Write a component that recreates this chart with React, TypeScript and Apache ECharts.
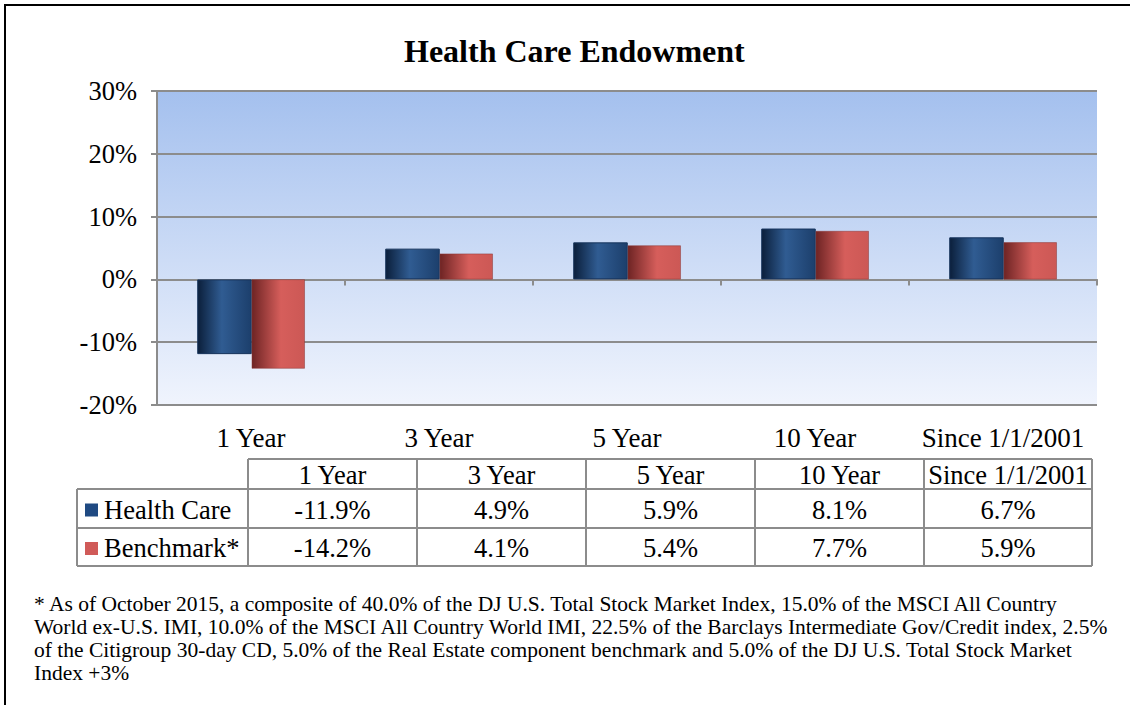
import React, { useEffect, useRef } from "react";
import * as echarts from "echarts";

const titleText = "Health Care Endowment";
const categories = ["1 Year", "3 Year", "5 Year", "10 Year", "Since 1/1/2001"];
const seriesNames = ["Health Care", "Benchmark*"];
const healthCare = [-11.9, 4.9, 5.9, 8.1, 6.7];
const benchmark = [-14.2, 4.1, 5.4, 7.7, 5.9];
const yMin = -20;
const yMax = 30;
const yStep = 10;
const footnoteLines = [
  "* As of October 2015, a composite of 40.0% of the DJ U.S. Total Stock Market Index, 15.0% of the MSCI All Country",
  "World ex-U.S. IMI, 10.0% of the MSCI All Country World IMI, 22.5% of the Barclays Intermediate Gov/Credit index, 2.5%",
  "of the Citigroup 30-day CD, 5.0% of the Real Estate component benchmark and 5.0% of the DJ U.S. Total Stock Market",
  "Index +3%",
];

const FONT = "Times New Roman";
const GRID_COLOR = "#8c8c8c";
const BLUE_SWATCH = "#1f4a82";
const RED_SWATCH = "#d05a58";

const blueFill = new echarts.graphic.LinearGradient(0, 0, 1, 0, [
  { offset: 0, color: "#0b1f3b" },
  { offset: 0.45, color: "#305c92" },
  { offset: 1, color: "#1c3f6c" },
]);
const redFill = new echarts.graphic.LinearGradient(0, 0, 1, 0, [
  { offset: 0, color: "#6e2424" },
  { offset: 0.55, color: "#d65e5b" },
  { offset: 1, color: "#cc5855" },
]);

function buildTable(): any[] {
  const colX = [77, 248, 417, 586, 755, 924, 1092];
  const rowY = [459, 489, 528, 566];
  const line = (x1: number, y1: number, x2: number, y2: number) => ({
    type: "line",
    shape: { x1, y1, x2, y2 },
    style: { stroke: GRID_COLOR, lineWidth: 2 },
    silent: true,
  });
  const els: any[] = [];
  els.push(line(colX[1], rowY[0], colX[6], rowY[0]));
  for (let r = 1; r < rowY.length; r++) els.push(line(colX[0], rowY[r], colX[6], rowY[r]));
  els.push(line(colX[0], rowY[1], colX[0], rowY[3]));
  for (let c = 1; c < colX.length; c++) els.push(line(colX[c], rowY[0], colX[c], rowY[3]));
  const txt = (text: string, x: number, y: number, align: string) => ({
    type: "text",
    x,
    y,
    style: {
      text,
      fill: "#000",
      fontFamily: FONT,
      fontSize: 26.5,
      textAlign: align,
      textVerticalAlign: "middle",
    },
    silent: true,
  });
  categories.forEach((cat, i) => {
    const cx = (colX[i + 1] + colX[i + 2]) / 2;
    els.push(txt(cat, cx, (rowY[0] + rowY[1]) / 2 + 1, "center"));
  });
  const rows = [healthCare, benchmark];
  const swatches = [BLUE_SWATCH, RED_SWATCH];
  rows.forEach((vals, r) => {
    const cy = (rowY[r + 1] + rowY[r + 2]) / 2 + 1;
    els.push({
      type: "rect",
      shape: { x: 85, y: cy - 6, width: 13, height: 13 },
      style: { fill: swatches[r] },
      silent: true,
    });
    els.push(txt(seriesNames[r], 104, cy, "left"));
    vals.forEach((v, i) => {
      const cx = (colX[i + 1] + colX[i + 2]) / 2;
      els.push(txt(v.toFixed(1) + "%", cx, cy, "center"));
    });
  });
  return els;
}

function buildFootnote(): any[] {
  return footnoteLines.map((t, i) => ({
    type: "text",
    x: 34,
    y: 604 + i * 23,
    style: {
      text: t,
      fill: "#000",
      fontFamily: FONT,
      fontSize: 21.5,
      textAlign: "left",
      textVerticalAlign: "middle",
    },
    silent: true,
  }));
}

export default function App() {
  const ref = useRef<HTMLDivElement>(null);
  useEffect(() => {
    if (!ref.current) return;
    const chart = echarts.init(ref.current, undefined, { renderer: "svg" });
    const option: any = {
      animation: false,
      backgroundColor: "#ffffff",
      title: {
        text: titleText,
        left: 399,
        top: 30,
        textStyle: { fontFamily: FONT, fontSize: 32, fontWeight: "bold", color: "#000" },
      },
      grid: {
        left: 157,
        right: 33,
        top: 91,
        bottom: 300,
        show: true,
        borderWidth: 0,
        backgroundColor: new echarts.graphic.LinearGradient(0, 0, 0, 1, [
          { offset: 0, color: "#a4c0ee" },
          { offset: 1, color: "#f0f4fd" },
        ]),
      },
      xAxis: [
        {
          type: "category",
          data: categories,
          position: "bottom",
          axisLine: { onZero: true, lineStyle: { color: GRID_COLOR, width: 2 } },
          axisTick: { show: true, length: 6, interval: 0, lineStyle: { color: GRID_COLOR, width: 2 } },
          axisLabel: { show: false },
          splitLine: { show: false },
        },
        {
          type: "category",
          data: categories,
          position: "bottom",
          axisLine: { show: false, onZero: false },
          axisTick: { show: false },
          axisLabel: {
            show: true,
            interval: 0,
            margin: 19,
            fontFamily: FONT,
            fontSize: 27,
            color: "#000",
          },
          splitLine: { show: false },
        },
      ],
      yAxis: {
        type: "value",
        min: yMin,
        max: yMax,
        interval: yStep,
        axisLine: { show: true, lineStyle: { color: GRID_COLOR, width: 2 } },
        axisTick: { show: true, length: 6, lineStyle: { color: GRID_COLOR, width: 2 } },
        axisLabel: {
          formatter: "{value}%",
          margin: 20,
          fontFamily: FONT,
          fontSize: 26.5,
          color: "#000",
        },
        splitLine: { show: true, lineStyle: { color: GRID_COLOR, width: 2 } },
      },
      series: [
        {
          name: seriesNames[0],
          type: "bar",
          xAxisIndex: 0,
          data: healthCare,
          barWidth: "29%",
          barGap: "0%",
          itemStyle: { color: blueFill, borderColor: "#17345c", borderWidth: 1 },
        },
        {
          name: seriesNames[1],
          type: "bar",
          xAxisIndex: 0,
          data: benchmark,
          barWidth: "28.2%",
          barGap: "0%",
          itemStyle: { color: redFill, borderColor: "#8a3433", borderWidth: 0.5 },
        },
      ],
      graphic: [
        {
          type: "rect",
          shape: { x: 5, y: 5, width: 1140, height: 720 },
          style: { fill: "none", stroke: "#000", lineWidth: 2 },
          silent: true,
        },
        ...buildTable(),
        ...buildFootnote(),
      ],
    };
    chart.setOption(option);
    return () => chart.dispose();
  }, []);
  return (
    <div
      ref={ref}
      style={{ position: "fixed", left: 0, top: 0, width: 1130, height: 705 }}
    />
  );
}
